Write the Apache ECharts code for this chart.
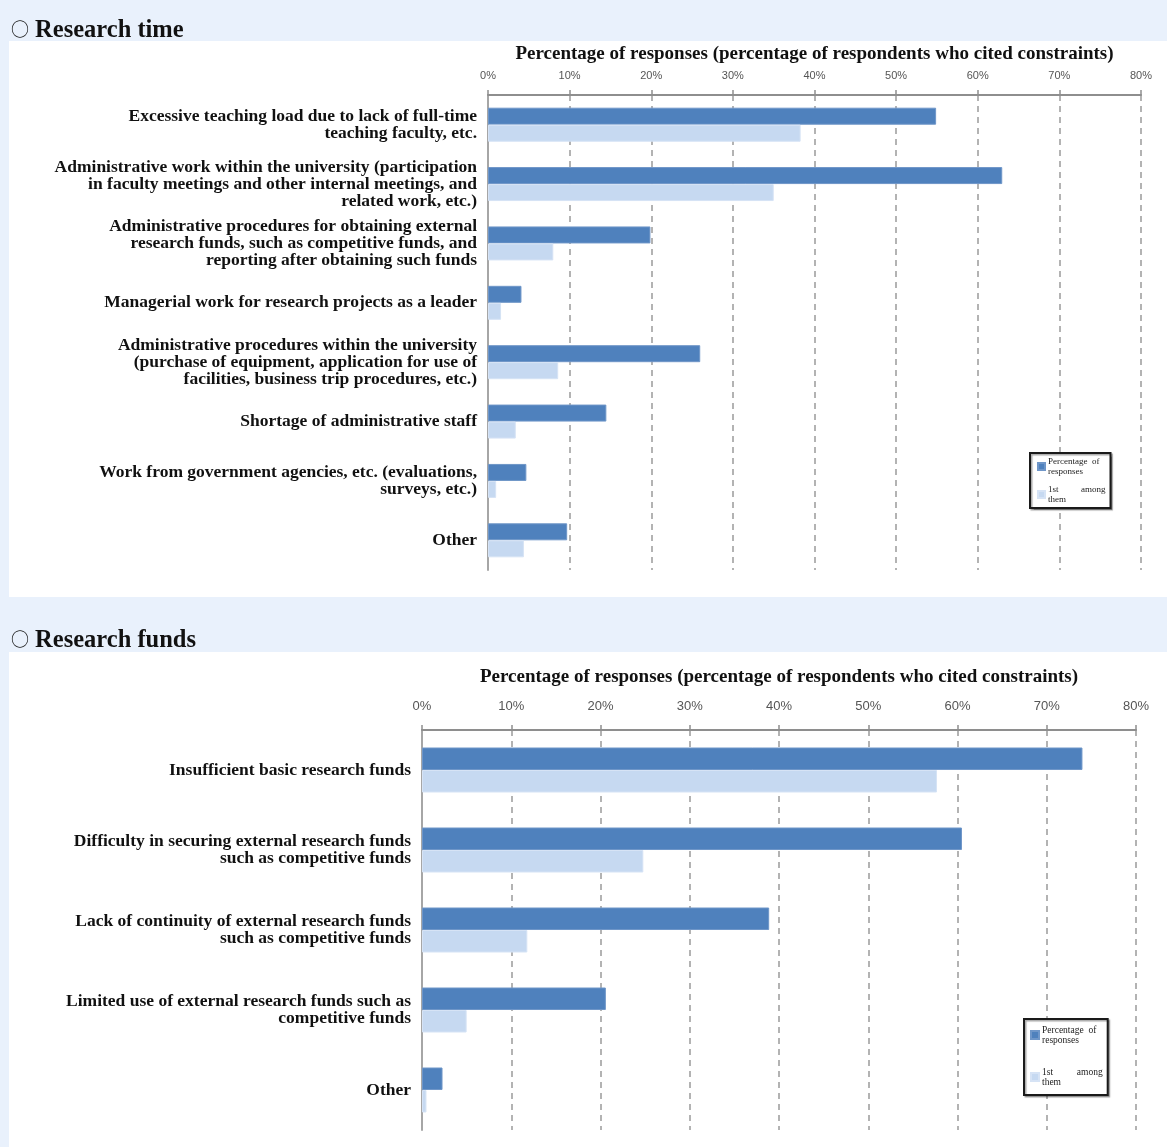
<!DOCTYPE html>
<html>
<head>
<meta charset="utf-8">
<script src="https://cdn.jsdelivr.net/npm/echarts@6/dist/echarts.min.js"></script>
<style>
  html, body { margin: 0; padding: 0; background: #E9F1FC; }
  #wrap { position: relative; width: 1167px; height: 1147px; overflow: hidden; }
  .panel { position: absolute; left: 9px; right: 0; background: #ffffff; }
  #p1 { top: 41px; height: 556px; }
  #p2 { top: 652px; height: 495px; }
  #chart { position: absolute; left: 0; top: 0; width: 1167px; height: 1147px; }
</style>
</head>
<body>
<div id="wrap">
  <div class="panel" id="p1"></div>
  <div class="panel" id="p2"></div>
  <div id="chart"></div>
</div>
<script>
// Constraint survey: share of respondents citing each constraint
const seriesNames = ['Percentage of responses', '1st among them'];
const tickValues = [0, 10, 20, 30, 40, 50, 60, 70, 80];
const axisTitle = 'Percentage of responses (percentage of respondents who cited constraints)';
const sectionTitles = ['Research time', 'Research funds'];

const timeCategories = [
  'Excessive teaching load due to lack of full-time\nteaching faculty, etc.',
  'Administrative work within the university (participation\nin faculty meetings and other internal meetings, and\nrelated work, etc.)',
  'Administrative procedures for obtaining external\nresearch funds, such as competitive funds, and\nreporting after obtaining such funds',
  'Managerial work for research projects as a leader',
  'Administrative procedures within the university\n(purchase of equipment, application for use of\nfacilities, business trip procedures, etc.)',
  'Shortage of administrative staff',
  'Work from government agencies, etc. (evaluations,\nsurveys, etc.)',
  'Other'
];
const timeResponses = [54.9, 63.0, 19.9, 4.1, 26.0, 14.5, 4.7, 9.7];
const timeFirst = [38.3, 35.0, 8.0, 1.6, 8.6, 3.4, 1.0, 4.4];

const fundCategories = [
  'Insufficient basic research funds',
  'Difficulty in securing external research funds\nsuch as competitive funds',
  'Lack of continuity of external research funds\nsuch as competitive funds',
  'Limited use of external research funds such as\ncompetitive funds',
  'Other'
];
const fundResponses = [74.0, 60.5, 38.9, 20.6, 2.3];
const fundFirst = [57.7, 24.8, 11.8, 5.0, 0.5];

const SERIF = '"Liberation Serif", "DejaVu Serif", serif';
const SANS = '"Liberation Sans Narrow", "Liberation Sans", "Noto Sans", sans-serif';
const DARK = '#4F81BD';
const LIGHT = '#C6D9F1';

function xAxisFor(gridIndex, nameGap, labelSize, labelMargin) {
  return {
    gridIndex: gridIndex,
    type: 'value',
    position: 'top',
    min: tickValues[0],
    max: tickValues[tickValues.length - 1],
    interval: tickValues[1] - tickValues[0],
    name: axisTitle,
    nameLocation: 'middle',
    nameGap: nameGap,
    nameTextStyle: { fontFamily: SERIF, fontWeight: 'bold', fontSize: 19, color: '#111' },
    axisLine: { show: true, lineStyle: { color: '#8E8E8E', width: 2 } },
    axisTick: { show: true, length: 5, lineStyle: { color: '#8E8E8E', width: 1.5 } },
    axisLabel: {
      fontFamily: SANS, fontSize: labelSize, color: '#555', margin: labelMargin,
      formatter: v => v + '%'
    },
    splitLine: { show: true, lineStyle: { color: '#9A9A9A', width: 1.5, type: [6, 5] } }
  };
}

function yAxisFor(gridIndex, cats) {
  return {
    gridIndex: gridIndex,
    type: 'category',
    inverse: true,
    data: cats,
    axisLine: { show: true, lineStyle: { color: '#A6A6A6', width: 2 } },
    axisTick: { show: false },
    axisLabel: {
      fontFamily: SERIF, fontWeight: 'bold', fontSize: 17.5, color: '#111',
      lineHeight: 17, margin: 11, align: 'right'
    }
  };
}

function barSeries(name, data, idx, color, width) {
  return {
    name: name, type: 'bar', data: data,
    xAxisIndex: idx, yAxisIndex: idx,
    barWidth: width, barGap: '0%',
    itemStyle: { color: color, borderColor: color === DARK ? '#6F96C8' : '#D6E3F5', borderWidth: 1 },
    emphasis: { disabled: true }
  };
}

function legendFor(left, top, fontSize, lineHeight, gap, icon, padding) {
  return {
    left: left, top: top, orient: 'vertical',
    data: seriesNames,
    icon: 'rect', itemWidth: icon, itemHeight: icon, itemGap: gap,
    padding: padding,
    backgroundColor: '#ffffff',
    borderColor: '#1a1a1a', borderWidth: 2,
    shadowColor: 'rgba(0,0,0,0.35)', shadowOffsetX: 1.5, shadowOffsetY: 1.5, shadowBlur: 1,
    selectedMode: false,
    textStyle: { fontFamily: SERIF, fontSize: fontSize, lineHeight: lineHeight, color: '#222', padding: [0, 0, 0, -2] },
    formatter: n => n === seriesNames[0] ? 'Percentage  of\nresponses' : '1st          among\nthem'
  };
}

// Section heading with a hollow circle bullet
function sectionTitle(text, top) {
  return {
    text: '{c|○} ' + text, left: 6, top: top,
    textStyle: {
      fontFamily: SERIF, fontWeight: 'bold', fontSize: 24.5, color: '#111',
      rich: { c: { fontFamily: '"Noto Sans CJK JP", sans-serif', fontWeight: 'normal', fontSize: 18, color: '#111', padding: [0, 0, 3, 0] } }
    }
  };
}

const chart = echarts.init(document.getElementById('chart'), null, { renderer: 'canvas' });
chart.setOption({
  animation: false,
  backgroundColor: 'transparent',
  title: [sectionTitle(sectionTitles[0], 13), sectionTitle(sectionTitles[1], 623)],
  grid: [
    { left: 488, right: 26, top: 95, height: 475, containLabel: false },
    { left: 422, right: 31, top: 730, height: 400, containLabel: false }
  ],
  xAxis: [xAxisFor(0, 31, 11, 14), xAxisFor(1, 43, 13, 17)],
  yAxis: [yAxisFor(0, timeCategories), yAxisFor(1, fundCategories)],
  legend: [
    legendFor(1030, 453, 9, 9.5, 9, 7, [4, 5, 4, 7]),
    legendFor(1024, 1019, 9.5, 10, 22, 8, [6, 5, 8, 6])
  ],
  series: [
    barSeries(seriesNames[0], timeResponses, 0, DARK, 17),
    barSeries(seriesNames[1], timeFirst, 0, LIGHT, 17),
    barSeries(seriesNames[0], fundResponses, 1, DARK, 22.5),
    barSeries(seriesNames[1], fundFirst, 1, LIGHT, 22.5)
  ]
});
</script>
</body>
</html>
